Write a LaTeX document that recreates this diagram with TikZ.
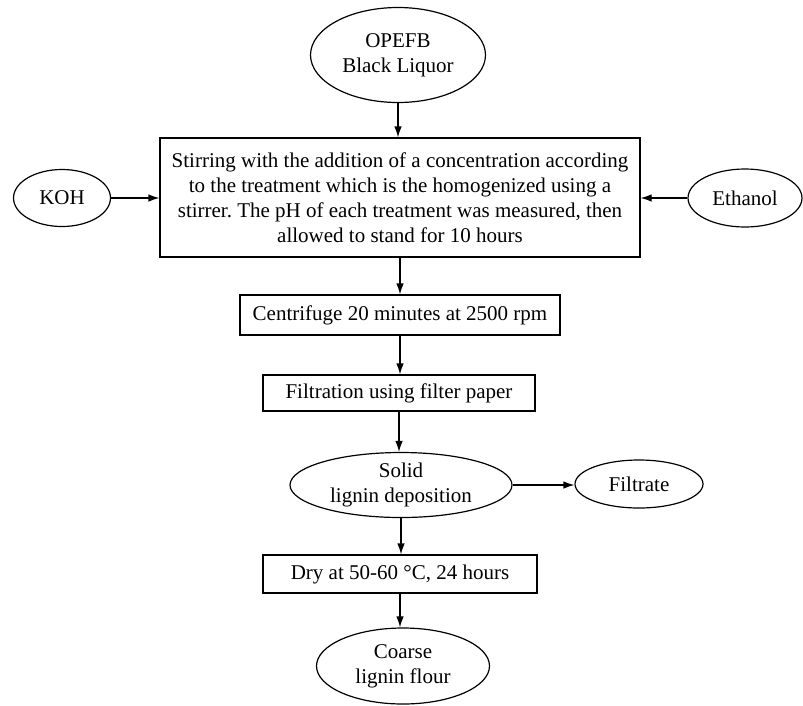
\documentclass[tikz,border=0pt]{standalone}
\usepackage{fontspec}
\setmainfont{Liberation Serif}
\usetikzlibrary{shapes.geometric,arrows.meta}
\begin{document}
\frenchspacing
\begin{tikzpicture}[x=1pt,y=-1pt,
  every node/.style={font=\fontsize{21}{25}\selectfont, inner sep=0pt, align=center},
  oval/.style={draw, ellipse, line width=1.2pt},
  procbox/.style={draw, rectangle, line width=1.2pt},
  flow/.style={line width=1.2pt, -{Latex[length=11pt,width=7.5pt]}}]
\useasboundingbox (0,0) rectangle (803,705);
\node[oval, minimum width=175, minimum height=95] (opefb) at (398,55) {OPEFB\\Black Liquor};
\node[procbox, minimum width=480, minimum height=119] (stir) at (400,197.5)
  {Stirring with the addition of a concentration according\\to the treatment which is the homogenized using a\\stirrer. The pH of each treatment was measured, then\\allowed to stand for 10 hours};
\node[oval, minimum width=97, minimum height=57] (koh) at (62,198) {KOH};
\node[oval, minimum width=114, minimum height=58] (eth) at (745,198) {Ethanol};
\node[procbox, minimum width=320, minimum height=40] (cent) at (400,315) {Centrifuge 20 minutes at 2500 rpm};
\node[procbox, minimum width=272, minimum height=36] (filt) at (399,393) {Filtration using filter paper};
\node[oval, minimum width=222, minimum height=65] (solid) at (401,485) {Solid\\lignin deposition};
\node[oval, minimum width=128, minimum height=48] (filtrate) at (639,484) {Filtrate};
\node[procbox, minimum width=274, minimum height=38] (dry) at (400,574) {Dry at 50-60 °C, 24 hours};
\node[oval, minimum width=173, minimum height=76] (coarse) at (403,666) {Coarse\\lignin flour};
\draw[flow] (opefb.south) -- (opefb.south |- stir.north);
\draw[flow] (koh.east) -- (stir.west |- koh.east);
\draw[flow] (eth.west) -- (stir.east |- eth.west);
\draw[flow] (stir.south) -- (stir.south |- cent.north);
\draw[flow] (cent.south) -- (cent.south |- filt.north);
\draw[flow] (filt.south) -- (filt.south |- solid.north);
\draw[flow] (solid.east) -- (filtrate.west |- solid.east);
\draw[flow] (solid.south) -- (solid.south |- dry.north);
\draw[flow] (dry.south) -- (dry.south |- coarse.north);
\end{tikzpicture}
\end{document}
